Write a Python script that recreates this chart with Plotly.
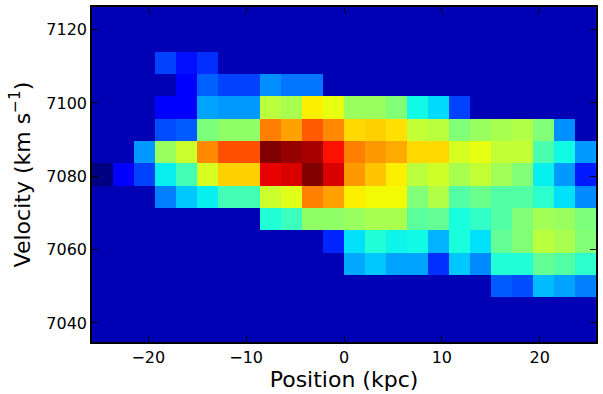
import plotly.graph_objects as go

# bin centres (kpc / km s^-1)
position = [-24.68, -22.53, -20.39, -18.24, -16.10, -13.95, -11.80, -9.66,
            -7.51, -5.36, -3.22, -1.07, 1.07, 3.22, 5.36, 7.51,
            9.66, 11.80, 13.95, 16.10, 18.24, 20.39, 22.53, 24.68]
velocity = [7037.85, 7043.94, 7050.03, 7056.12, 7062.21, 7068.30, 7074.39,
            7080.48, 7086.57, 7092.66, 7098.75, 7104.84, 7110.93, 7117.02,
            7123.11]

B = 0.045  # background level

# rows listed top (highest velocity) to bottom
intensity_top_down = [
    [B] * 24,
    [B] * 24,
    [B, B, B, 0.19, 0.14, 0.17] + [B] * 18,
    [B, B, B, B, 0.12, 0.22, 0.19, 0.19, 0.265, 0.24, 0.24] + [B] * 13,
    [B, B, B, 0.12, 0.12, 0.285, 0.275, 0.275, 0.575, 0.555, 0.656, 0.63,
     0.535, 0.535, 0.505, 0.37, 0.34, 0.19] + [B] * 6,
    [B, B, B, 0.2, 0.215, 0.5, 0.525, 0.525, 0.775, 0.74, 0.815, 0.765,
     0.68, 0.69, 0.673, 0.585, 0.575, 0.505, 0.535, 0.555, 0.565, 0.505, 0.265, B],
    [B, B, 0.275, 0.535, 0.595, 0.765, 0.825, 0.825, 1.0, 0.98, 0.965, 0.893,
     0.775, 0.748, 0.73, 0.68, 0.68, 0.61, 0.63, 0.585, 0.585, 0.44, 0.37, 0.275],
    [0.0, 0.12, 0.19, 0.36, 0.43, 0.61, 0.69, 0.69, 0.91, 0.923, 1.0, 0.923,
     0.748, 0.70, 0.656, 0.575, 0.6, 0.555, 0.585, 0.545, 0.505, 0.36, 0.275, 0.15],
    [B, B, B, 0.25, 0.32, 0.36, 0.43, 0.43, 0.595, 0.62, 0.775, 0.74,
     0.656, 0.645, 0.645, 0.505, 0.565, 0.45, 0.48, 0.45, 0.45, 0.4, 0.345, 0.26],
    [B] * 8 + [0.39, 0.42, 0.525, 0.525, 0.535, 0.555, 0.555, 0.46,
               0.47, 0.38, 0.41, 0.45, 0.505, 0.545, 0.535, 0.5],
    [B] * 11 + [0.16, 0.345, 0.39, 0.365, 0.37, 0.3, 0.38, 0.345, 0.47,
                0.505, 0.575, 0.555, 0.505],
    [B] * 12 + [0.29, 0.32, 0.285, 0.285, 0.17, 0.32, 0.26, 0.39, 0.39,
                0.47, 0.45, 0.4],
    [B] * 19 + [0.215, 0.2, 0.31, 0.285, 0.25],
    [B] * 24,
    [B] * 24,
]
intensity = intensity_top_down[::-1]

x_ticks = [-20, -10, 0, 10, 20]
y_ticks = [7040, 7060, 7080, 7100, 7120]


# matplotlib "jet" segment data -> plotly colorscale
_jet = {
    'r': [(0, 0), (0.35, 0), (0.66, 1), (0.89, 1), (1, 0.5)],
    'g': [(0, 0), (0.125, 0), (0.375, 1), (0.64, 1), (0.91, 0), (1, 0)],
    'b': [(0, 0.5), (0.11, 1), (0.34, 1), (0.65, 0), (1, 0)],
}


def _chan(pts, v):
    for (x0, y0), (x1, y1) in zip(pts[:-1], pts[1:]):
        if x0 <= v <= x1:
            return y0 + (y1 - y0) * (v - x0) / (x1 - x0) if x1 > x0 else y1
    return pts[-1][1]


stops = sorted({p[0] for c in _jet.values() for p in c})
jet = [[s, 'rgb(%d,%d,%d)' % tuple(round(255 * _chan(_jet[c], s)) for c in 'rgb')]
       for s in stops]

fig = go.Figure(go.Heatmap(
    x=position, y=velocity, z=intensity,
    colorscale=jet, zmin=0, zmax=1, showscale=False,
))

axis_style = dict(
    showline=True, linecolor='black', linewidth=1.5, mirror='ticks',
    ticks='inside', ticklen=6, tickwidth=1, tickcolor='black',
    showgrid=False, zeroline=False,
    tickfont=dict(family='DejaVu Sans', size=16, color='black'),
)
title_font = dict(family='DejaVu Sans', size=22, color='black')

fig.update_xaxes(range=[-25.75, 25.75], tickvals=x_ticks,
                 title=dict(text='Position (kpc)', standoff=0, font=title_font),
                 **axis_style)
fig.update_yaxes(range=[7034.8, 7126.15], tickvals=y_ticks,
                 title=dict(text='Velocity (km s<sup>−1</sup>)', standoff=10,
                            font=title_font),
                 **axis_style)

fig.update_layout(
    width=603, height=394,
    margin=dict(l=92, r=6, t=5, b=52),
    paper_bgcolor='white', plot_bgcolor='white',
    font=dict(family='DejaVu Sans', color='black'),
)

fig.write_html("out.html", config={'displayModeBar': False},
               post_script="document.body.style.margin='0';")
